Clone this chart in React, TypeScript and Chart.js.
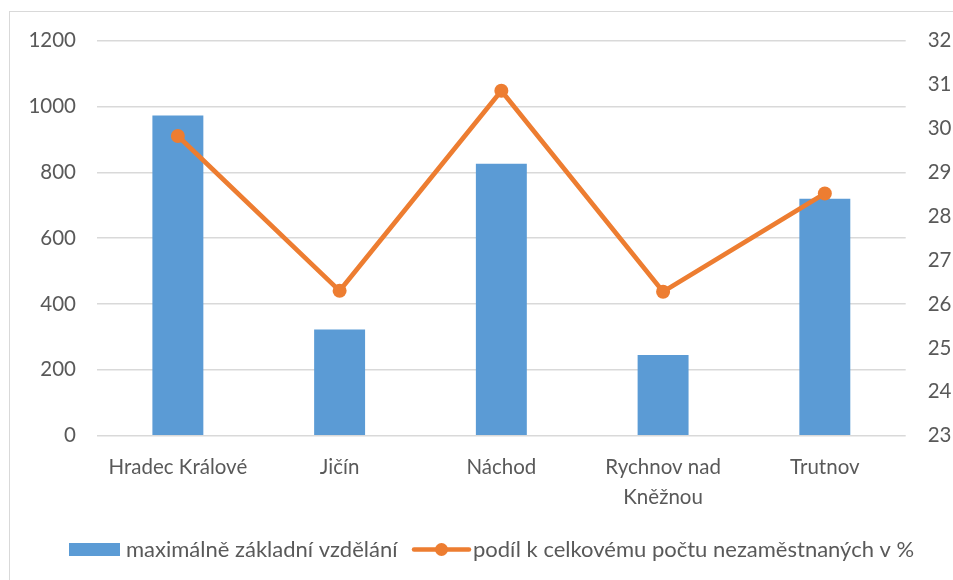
import React, { useEffect, useRef } from "react";
import { Chart, registerables } from "chart.js";

Chart.register(...registerables);

const categories: (string | string[])[] = [
  "Hradec Králové",
  "Jičín",
  "Náchod",
  ["Rychnov nad", "Kněžnou"],
  "Trutnov",
];
const barLabel = "maximálně základní vzdělání";
const lineLabel = "podíl k celkovému počtu nezaměstnaných v %";
const barValues = [973, 323, 826, 245, 720];
const lineValues = [29.83, 26.3, 30.86, 26.28, 28.52];

const FONT = "Lato";
const TEXT = "#595959";
const BLUE = "#5b9bd5";
const ORANGE = "#ed7d31";
const GRID = "#d9d9d9";

const legendPlugin = {
  id: "customLegend",
  afterDraw(chart: any) {
    const ctx = chart.ctx;
    ctx.save();
    ctx.font = `22px ${FONT}`;
    ctx.fillStyle = TEXT;
    ctx.textBaseline = "middle";
    const y = 549.5;
    // bar entry
    ctx.fillStyle = BLUE;
    ctx.fillRect(69, 543, 51, 13);
    ctx.fillStyle = TEXT;
    ctx.fillText(barLabel, 126, y);
    // line entry
    ctx.strokeStyle = ORANGE;
    ctx.lineWidth = 4.5;
    ctx.lineCap = "round";
    ctx.beginPath();
    ctx.moveTo(414, y);
    ctx.lineTo(469, y);
    ctx.stroke();
    ctx.fillStyle = ORANGE;
    ctx.beginPath();
    ctx.arc(441.5, y, 6.5, 0, Math.PI * 2);
    ctx.fill();
    ctx.fillStyle = TEXT;
    ctx.fillText(lineLabel, 473, y);
    ctx.restore();
  },
};

export default function App() {
  const ref = useRef<HTMLCanvasElement | null>(null);
  useEffect(() => {
    if (!ref.current) return;
    const chart = new Chart(ref.current, {
      type: "bar",
      data: {
        labels: categories,
        datasets: [
          {
            type: "line",
            label: lineLabel,
            data: lineValues,
            yAxisID: "y1",
            borderColor: ORANGE,
            backgroundColor: ORANGE,
            borderWidth: 4.75,
            pointRadius: 7,
            pointBackgroundColor: ORANGE,
            pointBorderWidth: 0,
            tension: 0,
            order: 0,
          } as any,
          {
            type: "bar",
            label: barLabel,
            data: barValues,
            yAxisID: "y",
            backgroundColor: BLUE,
            barPercentage: 1,
            categoryPercentage: 0.315,
            order: 1,
          },
        ],
      },
      options: {
        responsive: false,
        animation: false,
        layout: { padding: { top: 40.7, left: 0, right: 0, bottom: 0 } },
        plugins: { legend: { display: false }, tooltip: { enabled: false } },
        scales: {
          x: {
            grid: { display: false, drawTicks: false },
            border: { display: false },
            ticks: {
              color: TEXT,
              font: { family: FONT, size: 20.5, lineHeight: 1.45 },
              padding: 17,
              maxRotation: 0,
              autoSkip: false,
            },
            afterFit(scale: any) {
              scale.height = 144.3;
            },
          },
          y: {
            position: "left",
            min: 0,
            max: 1200,
            ticks: {
              stepSize: 200,
              color: TEXT,
              font: { family: FONT, size: 20.5 },
              padding: 21,
              callback: (v: any) => String(v),
            },
            grid: { color: GRID, lineWidth: 1.5, drawTicks: false },
            border: { display: false },
            afterFit(scale: any) {
              scale.width = 97;
            },
          },
          y1: {
            position: "right",
            min: 23,
            max: 32,
            ticks: {
              stepSize: 1,
              color: TEXT,
              font: { family: FONT, size: 20.5 },
              padding: 22,
              callback: (v: any) => String(v),
            },
            grid: { display: false, drawTicks: false },
            border: { display: false },
            afterFit(scale: any) {
              scale.width = 47.3;
            },
          },
        },
      },
      plugins: [legendPlugin],
    });
    return () => chart.destroy();
  }, []);

  return (
    <div
      style={{
        position: "fixed",
        left: 0,
        top: 0,
        width: 953,
        height: 580,
        overflow: "hidden",
        background: "#fff",
      }}
    >
      <div
        style={{
          position: "absolute",
          left: 9,
          top: 11,
          width: 1000,
          height: 1000,
          border: "1.5px solid #d9d9d9",
          boxSizing: "border-box",
        }}
      />
      <canvas
        ref={ref}
        width={953}
        height={580}
        style={{ position: "absolute", left: 0, top: 0, width: 953, height: 580 }}
      />
    </div>
  );
}
